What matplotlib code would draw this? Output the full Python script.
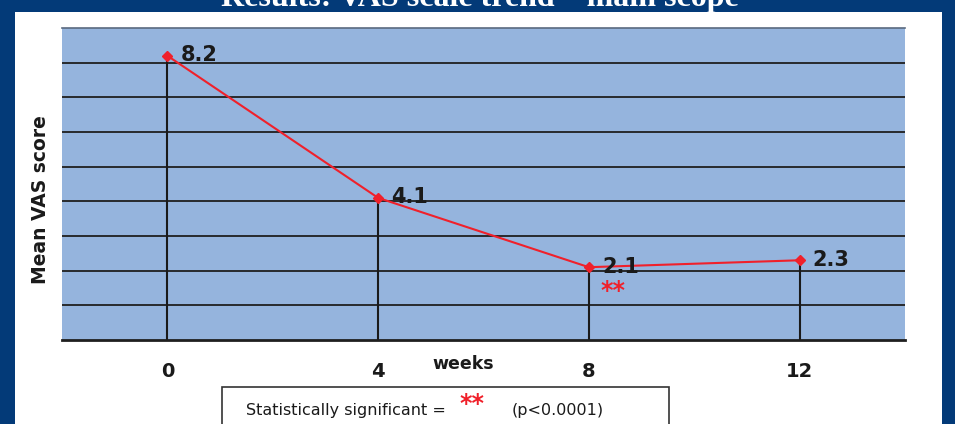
import matplotlib.pyplot as plt
from matplotlib.patches import Rectangle

weeks = [0, 4, 8, 12]
vas = [8.2, 4.1, 2.1, 2.3]
labels = ['8.2', '4.1', '2.1', '2.3']
xticks = [0, 4, 8, 12]

navy = '#033a78'
fig = plt.figure(figsize=(9.55, 4.24), dpi=100, facecolor=navy)

# white slide panel
fig.patches.append(Rectangle((15 / 955, 0), (942 - 15) / 955, (424 - 12) / 424,
                             transform=fig.transFigure, facecolor='white',
                             edgecolor='none', zorder=0))
fig.text(0.503, 1 - 6 / 424, 'Results: VAS scale trend \u2013 main scope',
         ha='center', va='baseline', color='white', fontsize=23,
         fontweight='bold', family='Liberation Serif')

ax = fig.add_axes([62 / 955, (424 - 340) / 424, (905 - 62) / 955, (340 - 28) / 424])
ax.set_zorder(5)
ax.set_facecolor('#95b4dd')
ax.set_xlim(-2, 14)
ax.set_ylim(0, 9)

for y in range(1, 9):
    ax.axhline(y, color='#1f1f1f', lw=1.3, zorder=1)
for s in ['left', 'right']:
    ax.spines[s].set_visible(False)
ax.spines['top'].set_color('#5a6a80')
ax.spines['top'].set_linewidth(1.2)
ax.spines['bottom'].set_color('#1f1f1f')
ax.spines['bottom'].set_linewidth(2)

ax.vlines(weeks, 0, vas, color='#1a1a1a', lw=1.5, zorder=2)
ax.plot(weeks, vas, color='#f0202a', lw=1.5, marker='D', ms=5, zorder=3)

for x, y, t in zip(weeks, vas, labels):
    ax.text(x + 0.25, y + 0.02, t, fontsize=15, fontweight='bold', color='#1a1a1a',
            va='center', ha='left', zorder=4)
ax.text(8.45, 1.4, '**', color='#f0202a', fontsize=17, fontweight='bold',
        ha='center', va='center')

ax.set_yticks([])
ax.set_xticks(xticks)
ax.set_xticklabels([str(v) for v in xticks], fontsize=14, fontweight='bold',
                   color='#1a1a1a')
ax.tick_params(axis='x', length=0, pad=16)

fig.text(40 / 955, 1 - 200 / 424, 'Mean VAS score', rotation=90, ha='center',
         va='center', fontsize=13.5, fontweight='bold', color='#1a1a1a')
fig.text(463 / 955, 1 - 364 / 424, 'weeks', ha='center', va='center',
         fontsize=12.5, fontweight='bold', color='#1a1a1a')

# legend box
fig.patches.append(Rectangle((222 / 955, -0.05), (669 - 222) / 955, (424 - 387) / 424 + 0.05,
                             transform=fig.transFigure, facecolor='white',
                             edgecolor='#333333', lw=1.2, zorder=2))
fig.text(246 / 955, 1 - 410 / 424, 'Statistically significant =', fontsize=11.5,
         color='#1a1a1a', va='center', ha='left')
fig.text(459 / 955, 1 - 404 / 424, '**', fontsize=17, fontweight='bold',
         color='#f0202a', va='center', ha='left')
fig.text(512 / 955, 1 - 410 / 424, '(p<0.0001)', fontsize=11.5,
         color='#1a1a1a', va='center', ha='left')

fig.savefig('out.png', dpi=100, facecolor=navy)
